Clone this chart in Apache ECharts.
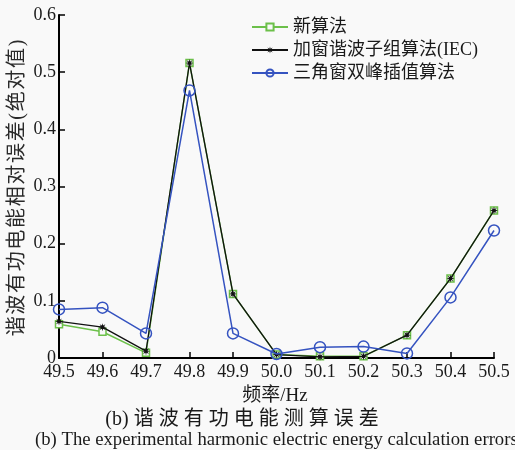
<!DOCTYPE html>
<html>
<head>
<meta charset="utf-8">
<script src="https://cdn.jsdelivr.net/npm/echarts@6/dist/echarts.min.js"></script>
<style>
  html, body { margin: 0; padding: 0; background: #f9f9f9; }
  #chart { width: 515px; height: 450px; }
</style>
</head>
<body>
<div id="chart"></div>
<script>
// Frequency points (Hz)
const frequencies = ['49.5', '49.6', '49.7', '49.8', '49.9', '50.0', '50.1', '50.2', '50.3', '50.4', '50.5'];

// Relative error of harmonic active energy (absolute value)
const newAlgorithm = [0.059, 0.046, 0.009, 0.516, 0.112, 0.006, 0.003, 0.003, 0.040, 0.139, 0.258];
const windowedSubgroupIEC = [0.064, 0.054, 0.012, 0.516, 0.112, 0.006, 0.002, 0.003, 0.040, 0.139, 0.258];
const triangleDoublePeak = [0.085, 0.088, 0.043, 0.468, 0.043, 0.007, 0.019, 0.020, 0.008, 0.106, 0.223];

const seriesNames = ['新算法', '加窗谐波子组算法(IEC)', '三角窗双峰插值算法'];
const yAxisTitle = '谐波有功电能相对误差(绝对值)';
const xAxisTitle = '频率/Hz';
const captionCn = '(b) 谐波有功电能测算误差';
const captionEn = '(b) The experimental harmonic electric energy calculation errors';

// Spread CJK glyphs a little, the way the typeset labels are set
const spread = (s, gap) => Array.from(s).join(gap);

const serif = '"Liberation Serif", "Noto Sans CJK SC", serif';
const starPath = 'path://M0,-1 L0.16,-0.38 L0.71,-0.71 L0.38,-0.16 L1,0 L0.38,0.16 L0.71,0.71 L0.16,0.38 L0,1 L-0.16,0.38 L-0.71,0.71 L-0.38,0.16 L-1,0 L-0.38,-0.16 L-0.71,-0.71 L-0.16,-0.38 Z';

const GREEN = '#6cc04a';
const BLACK = '#111111';
const BLUE = '#3553c0';
const INK = '#1a1a1a';

const chart = echarts.init(document.getElementById('chart'), null, { renderer: 'canvas' });

chart.setOption({
  backgroundColor: '#f9f9f9',
  animation: false,
  grid: { left: 59, right: 21, top: 15, bottom: 92, containLabel: false },
  legend: {
    orient: 'vertical',
    left: 246,
    top: 13,
    itemWidth: 36,
    itemHeight: 9,
    itemGap: 5,
    textStyle: { fontFamily: serif, fontSize: 18, color: INK },
    data: seriesNames
  },
  xAxis: {
    type: 'category',
    data: frequencies,
    boundaryGap: false,
    axisLine: { lineStyle: { color: '#000', width: 2 } },
    axisTick: { inside: true, length: 6, lineStyle: { color: '#000', width: 1.5 } },
    axisLabel: { color: INK, fontFamily: serif, fontSize: 18, margin: 5 },
    splitLine: { show: false }
  },
  yAxis: {
    type: 'value',
    min: 0,
    max: 0.6,
    interval: 0.1,
    axisLine: { show: true, lineStyle: { color: '#000', width: 2 } },
    axisTick: { show: true, inside: true, length: 6, lineStyle: { color: '#000', width: 1.5 } },
    axisLabel: { color: INK, fontFamily: serif, fontSize: 18, margin: 3 },
    splitLine: { show: false }
  },
  graphic: [
    {
      type: 'text', x: 18, y: 188, rotation: Math.PI / 2,
      style: { text: spread(yAxisTitle, '\u200A'), font: '20px ' + serif, fill: '#2a2a2a', align: 'center', verticalAlign: 'middle' }
    },
    {
      type: 'text', x: 275, y: 396,
      style: { text: xAxisTitle, font: '19px ' + serif, fill: INK, align: 'center', verticalAlign: 'middle' }
    },
    {
      type: 'text', x: 242, y: 420,
      style: { text: '(b) ' + spread(captionCn.slice(4), '\u2005'), font: '20px ' + serif, fill: INK, align: 'center', verticalAlign: 'middle' }
    },
    {
      type: 'text', x: 35, y: 440,
      style: { text: captionEn, font: '18.7px ' + serif, fill: INK, align: 'left', verticalAlign: 'middle' }
    }
  ],
  series: [
    {
      name: seriesNames[0],
      type: 'line',
      data: newAlgorithm,
      symbol: 'rect',
      symbolSize: 7,
      color: GREEN,
      lineStyle: { width: 1.5, color: GREEN },
      itemStyle: { color: '#f9f9f9', borderColor: GREEN, borderWidth: 1.5 },
      z: 2
    },
    {
      name: seriesNames[1],
      type: 'line',
      data: windowedSubgroupIEC,
      symbol: starPath,
      symbolSize: 8,
      color: BLACK,
      lineStyle: { width: 1.3, color: BLACK },
      itemStyle: { color: BLACK, borderColor: BLACK, borderWidth: 0 },
      z: 3
    },
    {
      name: seriesNames[2],
      type: 'line',
      data: triangleDoublePeak,
      symbol: 'circle',
      symbolSize: 11,
      color: BLUE,
      lineStyle: { width: 1.5, color: BLUE },
      itemStyle: { color: 'rgba(0,0,0,0)', borderColor: BLUE, borderWidth: 1.5 },
      z: 4
    }
  ]
});
</script>
</body>
</html>
